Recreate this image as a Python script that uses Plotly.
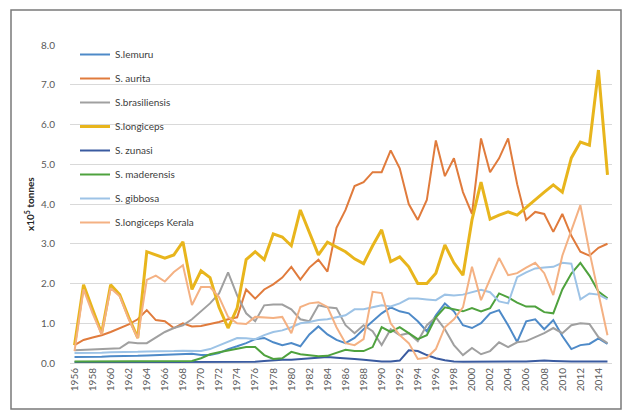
import plotly.graph_objects as go

years = list(range(1956, 2016))

lemuru = [0.15, 0.15, 0.16, 0.16, 0.17, 0.17, 0.18, 0.18, 0.19, 0.20, 0.20, 0.21, 0.22, 0.23,
          0.20, 0.20, 0.25, 0.35, 0.42, 0.50, 0.60, 0.63, 0.52, 0.45,
          0.50, 0.42, 0.72, 0.92, 0.72, 0.58, 0.50, 0.63, 0.85, 1.05,
          1.25, 1.40, 1.30, 1.25, 1.05, 0.80, 1.20, 1.50, 1.30, 0.95,
          0.88, 1.00, 1.25, 1.33, 0.95, 0.53, 1.05, 1.10, 0.85, 1.08,
          0.68, 0.35, 0.45, 0.48, 0.62, 0.48]

aurita = [0.45, 0.58, 0.64, 0.70, 0.78, 0.88, 0.97, 1.10, 1.33, 1.08, 1.05, 0.88, 1.00, 0.92,
          0.93, 0.98, 1.03, 1.10, 1.15, 1.85, 1.62, 1.85, 1.98, 2.15,
          2.42, 2.10, 2.40, 2.60, 2.30, 3.40, 3.85, 4.45, 4.55, 4.80,
          4.80, 5.35, 4.90, 4.00, 3.60, 4.10, 5.60, 4.70, 5.15, 4.30,
          3.75, 5.65, 4.80, 5.15, 5.65, 4.50, 3.60, 3.80, 3.75, 3.30,
          3.75, 3.20, 2.80, 2.70, 2.90, 3.00]

brasiliensis = [0.32, 0.33, 0.33, 0.34, 0.35, 0.37, 0.52, 0.50, 0.50, 0.65, 0.78, 0.88, 0.95, 1.10,
                1.30, 1.50, 1.75, 2.28, 1.70, 1.25, 1.05, 1.45, 1.47, 1.47,
                1.35, 1.10, 1.05, 1.45, 1.40, 1.38, 0.95, 0.75, 0.95, 0.80,
                0.45, 0.85, 0.70, 0.75, 0.55, 0.95, 1.15, 0.85, 0.45, 0.20,
                0.38, 0.22, 0.30, 0.52, 0.40, 0.52, 0.55, 0.65, 0.75, 0.88,
                0.75, 0.95, 1.00, 0.98, 0.65, 0.50]

longiceps = [0.45, 1.97, 1.35, 0.75, 1.97, 1.72, 1.15, 0.63, 2.80, 2.72, 2.64, 2.72, 3.05, 1.85,
             2.32, 2.15, 1.40, 0.88, 1.38, 2.60, 2.80, 2.60, 3.25, 3.17,
             2.95, 3.85, 3.30, 2.72, 3.04, 2.92, 2.80, 2.62, 2.50, 2.95,
             3.35, 2.55, 2.67, 2.42, 2.00, 2.00, 2.26, 2.97, 2.52, 2.21,
             3.60, 4.55, 3.62, 3.72, 3.80, 3.72, 3.92, 4.10, 4.30, 4.48,
             4.30, 5.16, 5.56, 5.48, 7.37, 4.73]

zunasi = [0.02, 0.02, 0.02, 0.02, 0.02, 0.02, 0.02, 0.02, 0.02, 0.02, 0.02, 0.02, 0.02, 0.02,
          0.02, 0.02, 0.02, 0.02, 0.02, 0.02, 0.03, 0.05, 0.07, 0.08,
          0.08, 0.10, 0.12, 0.13, 0.15, 0.13, 0.12, 0.10, 0.08, 0.06,
          0.04, 0.04, 0.06, 0.32, 0.30, 0.20, 0.12, 0.07, 0.04, 0.03,
          0.03, 0.03, 0.03, 0.03, 0.03, 0.03, 0.04, 0.05, 0.06, 0.05,
          0.04, 0.04, 0.04, 0.04, 0.04, 0.04]

maderensis = [0.04, 0.04, 0.04, 0.04, 0.04, 0.04, 0.04, 0.04, 0.05, 0.05, 0.05, 0.05, 0.05, 0.05,
              0.12, 0.22, 0.27, 0.32, 0.36, 0.40, 0.40, 0.20, 0.10, 0.12,
              0.28, 0.22, 0.20, 0.17, 0.18, 0.25, 0.33, 0.30, 0.30, 0.40,
              0.90, 0.78, 0.90, 0.75, 0.60, 0.70, 1.15, 1.40, 1.35, 1.30,
              1.38, 1.30, 1.38, 1.75, 1.65, 1.52, 1.42, 1.42, 1.28, 1.25,
              1.85, 2.25, 2.52, 2.20, 1.80, 1.63]

gibbosa = [0.25, 0.25, 0.26, 0.26, 0.27, 0.27, 0.28, 0.28, 0.29, 0.29, 0.30, 0.30, 0.31, 0.30,
           0.30, 0.35, 0.45, 0.55, 0.63, 0.62, 0.60, 0.70, 0.78, 0.82,
           0.90, 1.00, 1.03, 1.08, 1.10, 1.15, 1.20, 1.35, 1.35, 1.40,
           1.45, 1.42, 1.50, 1.62, 1.62, 1.60, 1.58, 1.72, 1.70, 1.72,
           1.78, 1.84, 1.78, 1.55, 1.50, 2.16, 2.28, 2.38, 2.40, 2.42,
           2.52, 2.50, 1.60, 1.75, 1.72, 1.60]

kerala = [0.30, 1.85, 1.25, 0.72, 1.88, 1.68, 1.10, 0.62, 2.09, 2.20, 2.05, 2.29, 2.46, 1.46,
          1.91, 1.91, 1.66, 1.16, 1.00, 0.98, 1.16, 1.15, 1.13, 1.16,
          0.75, 1.41, 1.50, 1.53, 1.41, 0.90, 0.50, 0.45, 0.60, 1.79,
          1.76, 1.00, 0.70, 0.50, 0.10, 0.13, 0.35, 0.90, 1.10, 1.40,
          2.42, 1.58, 2.10, 2.64, 2.21, 2.26, 2.40, 2.52, 2.26, 1.71,
          2.70, 3.35, 3.97, 2.80, 1.75, 0.70]

series_names = ["S.lemuru", "S. aurita", "S.brasiliensis", "S.longiceps", "S. zunasi",
                "S. maderensis", "S. gibbosa", "S.longiceps Kerala"]
series_values = [lemuru, aurita, brasiliensis, longiceps, zunasi, maderensis, gibbosa, kerala]
series_colors = ["#4E8AC8", "#E07B3C", "#A0A0A0", "#E8B51C", "#3A5BA0",
                 "#4FA23E", "#9DC3E6", "#F4B183"]
series_widths = [2, 2, 2, 3, 2, 2, 2, 2]

tick_years = list(range(1956, 2016, 2))
tick_text = [str(y) for y in tick_years]

fig = go.Figure()
for i, (name, vals, col, w) in enumerate(zip(series_names, series_values, series_colors, series_widths)):
    fig.add_trace(go.Scatter(x=years, y=vals, mode="lines", name=name,
                             legendgroup="g%d" % i,
                             line=dict(color=col, width=w)))

W, H = 632, 410
ml, mr, mt, mb = 70, 20, 45, 47
pw = W - ml - mr
ph = H - mt - mb

def px_x(x):
    return (x - ml) / pw

def px_y(y):
    return (H - mb - y) / ph

fig.update_layout(
    width=W, height=H,
    margin=dict(l=ml, r=mr, t=mt, b=mb),
    paper_bgcolor="white", plot_bgcolor="white",
    font=dict(family="Lato, Open Sans, sans-serif", color="#595959"),
    showlegend=True,
    legend=dict(x=px_x(75), y=px_y(40), xanchor="left", yanchor="top",
                bgcolor="rgba(0,0,0,0)", font=dict(size=10, color="#404040"),
                tracegroupgap=5, itemwidth=30),
    xaxis=dict(range=[1955.5, 2015.5], tickmode="array", tickvals=tick_years, ticktext=tick_text,
               tickangle=-90, tickfont=dict(size=10, color="#595959"), showgrid=False,
               showline=True, linecolor="#D9D9D9", linewidth=1, zeroline=False, ticks=""),
    yaxis=dict(range=[0, 8], dtick=1, tickformat=".1f", tickfont=dict(size=10, color="#595959"),
               showgrid=True, gridcolor="#D9D9D9", gridwidth=1, zeroline=False,
               showline=False, ticks="", ticklabelstandoff=14),
    shapes=[dict(type="rect", xref="paper", yref="paper",
                 x0=px_x(11), x1=px_x(621), y0=px_y(409), y1=px_y(10),
                 line=dict(color="#7A7A7A", width=1.5), fillcolor="rgba(0,0,0,0)", layer="above")],
    annotations=[dict(text="<b>x10<sup>5</sup> tonnes</b>", xref="paper", yref="paper",
                      x=px_x(29), y=0.5, xanchor="center", yanchor="middle", textangle=-90,
                      showarrow=False, font=dict(size=10, color="#262626"))],
)

fig.write_html("out.html", config={"displayModeBar": False},
               post_script="document.body.style.margin='0';")
